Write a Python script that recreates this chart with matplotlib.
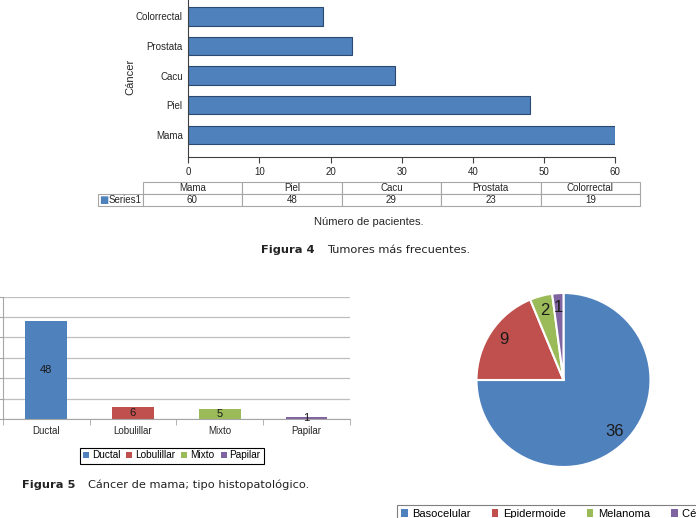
import matplotlib
matplotlib.use("Agg")
import matplotlib.pyplot as plt
from matplotlib.table import Table
from matplotlib.patches import Patch

# Datos
tumores = ["Mama", "Piel", "Cacu", "Prostata", "Colorrectal"]
pacientes = [60, 48, 29, 23, 19]

tipos_mama = ["Ductal", "Lobulillar", "Mixto", "Papilar"]
casos_mama = [48, 6, 5, 1]

tipos_piel = ["Basocelular", "Epidermoide", "Melanoma", "Células de Merkel"]
casos_piel = [36, 9, 2, 1]

azul = "#4f81bd"
colores = ["#4f81bd", "#c0504d", "#9bbb59", "#8064a2"]

W, H = 696, 518
plt.rcParams["font.family"] = ["Liberation Sans", "DejaVu Sans"]


def px(l, t, r, b):
    # caja en pixeles -> coordenadas de figura
    return [l / W, 1 - b / H, (r - l) / W, (b - t) / H]


fig = plt.figure(figsize=(W / 100, H / 100), dpi=100)

# Figura 4 - barras horizontales
ax1 = fig.add_axes(px(188.3, 0, 615, 156.7))
ax1.barh(range(len(tumores)), pacientes, height=0.62, color=azul,
         edgecolor="#2a4a70", linewidth=0.8)
ax1.set_yticks(range(len(tumores)))
ax1.set_yticklabels(tumores, fontsize=7, color="#262626")
ax1.set_xlim(0, 60)
ax1.set_ylim(-0.74, 4.557)
ax1.set_xticks(range(0, 61, 10))
ax1.tick_params(axis="x", length=4, labelsize=7, color="#404040", labelcolor="#262626")
ax1.tick_params(axis="y", length=0, pad=4)
for s in ["top", "right"]:
    ax1.spines[s].set_visible(False)
for s in ["left", "bottom"]:
    ax1.spines[s].set_color("#404040")
    ax1.spines[s].set_linewidth(0.8)
ax1.set_ylabel("Cáncer", fontsize=8, color="#262626")
ax1.yaxis.set_label_coords((135 - 188.3) / 426.7, 0.51)

# tabla de datos
axT = fig.add_axes(px(98.3, 182.3, 640, 206))
axT.axis("off")
tab = Table(axT, bbox=[0, 0, 1, 1])
anchos = [44.4] + [99.5] * len(tumores)
tab.add_cell(0, 0, anchos[0], 1, text="")
tab[0, 0].visible_edges = ""
for j, t in enumerate(tumores):
    tab.add_cell(0, j + 1, anchos[j + 1], 1, text=t, loc="center")
    tab.add_cell(1, j + 1, anchos[j + 1], 1, text=str(pacientes[j]), loc="center")
tab.add_cell(1, 0, anchos[0], 1, text="Series1", loc="right")
for cell in tab.get_celld().values():
    cell.set_edgecolor("#a6a6a6")
    cell.set_linewidth(0.8)
    cell.get_text().set_fontsize(7)
    cell.get_text().set_color("#262626")
    cell.PAD = 0.02
tab.auto_set_font_size(False)
axT.add_table(tab)
axT.text(0.0105, 0.25, "■", color=azul, fontsize=7, ha="center", va="center",
         family="DejaVu Sans", transform=axT.transAxes)

fig.text(369 / W, 1 - 222 / H, "Número de pacientes.", fontsize=8, ha="center",
         va="center", color="#262626")
fig.text(260.7 / W, 1 - 250 / H, "Figura 4", fontsize=8.2, fontweight="bold",
         family="DejaVu Sans", va="center", color="#222222")
fig.text(327.3 / W, 1 - 250 / H, "Tumores más frecuentes.", fontsize=8.2,
         family="DejaVu Sans", va="center", color="#222222")

# Figura 5 - barras de tipo histopatologico
ax2 = fig.add_axes(px(2.7, 296.7, 350, 419))
barras = ax2.bar(range(len(tipos_mama)), casos_mama, width=0.48, color=colores, zorder=2)
ax2.bar_label(barras, label_type="center", fontsize=8, color="#1a1a1a")
ax2.set_xlim(-0.5, 3.5)
ax2.set_ylim(0, 60)
ax2.set_yticks(range(0, 61, 10))
ax2.yaxis.grid(True, color="#bfbfbf", linewidth=0.9)
ax2.set_axisbelow(True)
ax2.set_xticks(range(len(tipos_mama)))
ax2.set_xticklabels(tipos_mama, fontsize=7, color="#262626")
ax2.set_xticks([i - 0.5 for i in range(len(tipos_mama) + 1)], minor=True)
ax2.tick_params(axis="x", which="major", length=0, pad=5)
ax2.tick_params(axis="x", which="minor", length=4, color="#a6a6a6")
ax2.tick_params(axis="y", length=3, color="#a6a6a6", labelleft=False)
for s in ["top", "right"]:
    ax2.spines[s].set_visible(False)
for s in ["left", "bottom"]:
    ax2.spines[s].set_color("#a6a6a6")
leg2 = ax2.legend(barras, tipos_mama, ncol=4, loc="center",
                  bbox_to_anchor=(171.7 / W, 1 - 455.5 / H), bbox_transform=fig.transFigure,
                  fontsize=7.2, handlelength=0.6, handleheight=0.6, handletextpad=0.3,
                  columnspacing=0.6, borderpad=0.3, fancybox=False, framealpha=1,
                  edgecolor="black")
leg2.get_frame().set_linewidth(0.8)

fig.text(21.7 / W, 1 - 485 / H, "Figura 5", fontsize=8.2, fontweight="bold",
         family="DejaVu Sans", va="center", color="#222222")
fig.text(88.3 / W, 1 - 485 / H, "Cáncer de mama; tipo histopatológico.", fontsize=8.2,
         family="DejaVu Sans", va="center", color="#222222")

# pastel - cancer de piel
total = sum(casos_piel)
ax3 = fig.add_axes(px(563.5 - 87, 380 - 87, 563.5 + 87, 380 + 87))
ax3.pie(casos_piel, colors=colores, startangle=90, counterclock=False,
        wedgeprops=dict(edgecolor="white", linewidth=1.5),
        autopct=lambda p: f"{p * total / 100:.0f}", pctdistance=0.83,
        textprops=dict(fontsize=12, color="#1a1a1a"))
ax3.set_xlim(-1, 1)
ax3.set_ylim(-1, 1)

handles = [Patch(facecolor=c) for c in colores]
leg3 = fig.legend(handles, tipos_piel, ncol=4, loc="upper left",
                  bbox_to_anchor=(397 / W, 1 - 505 / H), fontsize=8,
                  handlelength=0.6, handleheight=0.6, handletextpad=0.4,
                  columnspacing=1.9, borderpad=0.35, fancybox=False, framealpha=1,
                  edgecolor="#7f7f7f", borderaxespad=0)
leg3.get_frame().set_linewidth(0.8)

fig.savefig("out.png", dpi=100)
